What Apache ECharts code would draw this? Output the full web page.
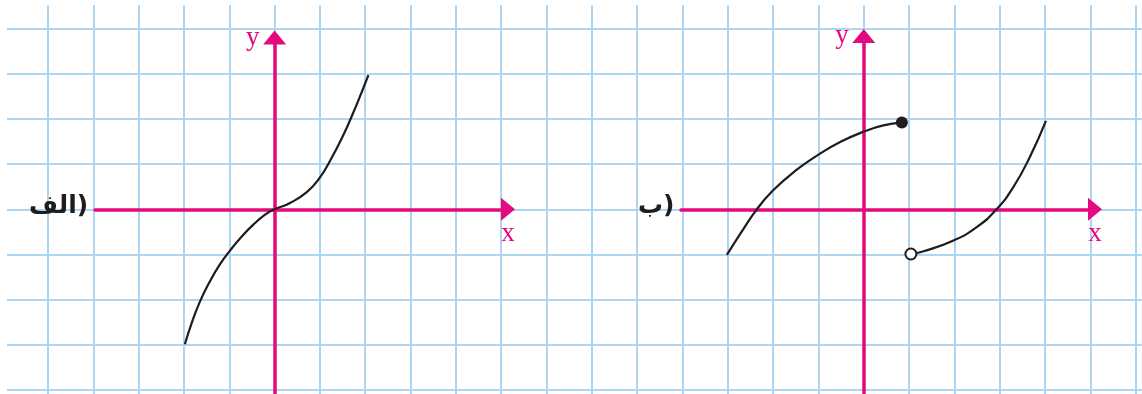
<!DOCTYPE html>
<html>
<head>
<meta charset="utf-8">
<script src="https://cdn.jsdelivr.net/npm/echarts@6/dist/echarts.min.js"></script>
<style>
	html, body { margin: 0; padding: 0; background: #fff; }
	#main { width: 1142px; height: 394px; }
</style>
</head>
<body>
<div id="main"></div>
<script>
// graph (الف): one smooth curve through the origin
var curveA = [[-1.98, -2.99], [-1.83, -2.52], [-1.65, -2.05], [-1.43, -1.6], [-1.2, -1.21],
	[-0.98, -0.91], [-0.73, -0.61], [-0.47, -0.34], [-0.21, -0.12], [0, 0], [0.34, 0.14],
	[0.71, 0.38], [0.99, 0.69], [1.26, 1.14], [1.52, 1.65], [1.74, 2.15], [1.92, 2.59], [2.07, 2.97]];
// graph (ب): two pieces with a jump
var curveB1 = [[-3.02, -1.01], [-2.69, -0.49], [-2.36, 0], [-2, 0.42], [-1.5, 0.86],
	[-1, 1.21], [-0.5, 1.5], [0, 1.72], [0.43, 1.86], [0.84, 1.92]];
var curveB2 = [[1.04, -0.99], [1.32, -0.93], [1.98, -0.69], [2.5, -0.39], [2.93, 0],
	[3.3, 0.49], [3.67, 1.17], [4.02, 1.96]];
var closedEnd = [[0.84, 1.92]];
var openEnd = [[1.04, -0.99]];
var panelLabels = ['الف)', 'ب)'];
var axisNames = ['x', 'y'];

// layout of the squared paper (pixels)
var W = 1142, H = 394;
var UX = 45.32, UY = 45.15;    // one square
var OY = 209.3;                // both x axes
var OXA = 274.6, OXB = OXA + 13 * UX;  // the two y axes
var BLUE = '#aed6f3', PINK = '#e5097f', INK = '#1e1c1d';

var myChart = echarts.init(document.getElementById('main'));

function panelAxes(idx, ox, leftPx, endPx, topPx) {
	return {
		grid: { left: leftPx, top: topPx, width: endPx - leftPx, bottom: 0 },
		x: {
			gridIndex: idx, type: 'value',
			min: (leftPx - ox) / UX, max: (endPx - ox) / UX,
			axisLine: { onZero: true, lineStyle: { color: PINK, width: 3.5 }, symbol: ['none', 'triangle'], symbolSize: [23, 14] },
			axisTick: { show: false }, axisLabel: { show: false }, splitLine: { show: false },
			name: axisNames[0], nameLocation: 'end', nameGap: 0,
			nameTextStyle: { color: PINK, fontSize: 27, fontFamily: 'Liberation Serif', align: 'center', verticalAlign: 'top', padding: [11, 0, 0, 0] }
		},
		y: {
			gridIndex: idx, type: 'value',
			min: (OY - H) / UY, max: (OY - topPx) / UY,
			axisLine: { onZero: true, lineStyle: { color: PINK, width: 3.5 }, symbol: ['none', 'triangle'], symbolSize: [23, 14] },
			axisTick: { show: false }, axisLabel: { show: false }, splitLine: { show: false },
			name: axisNames[1], nameLocation: 'end', nameGap: 0,
			nameTextStyle: { color: PINK, fontSize: 27, fontFamily: 'Liberation Serif', align: 'right', verticalAlign: 'middle', padding: [3, 15, 0, 0] }
		}
	};
}

var pa = panelAxes(2, OXA, 95, 508, 37.5);
var pb = panelAxes(3, OXB, 681, 1095, 36);

var labelStyle = { fontFamily: 'DejaVu Sans', fontSize: 25, fontWeight: 'bold', color: INK };

var hidden = { axisLine: { show: false }, axisTick: { show: false }, axisLabel: { show: false } };
function paperAxis(extra) {
	return Object.assign({ type: 'value' }, hidden, extra);
}

// vertical lines: x min sits on a paper line just off the left edge
var vMin = -6, vLeft = OXA + vMin * UX;
// horizontal lines: the grid spans the outermost lines
var hMin = -4, hMax = 4;

var curveStyle = { color: INK, width: 2.2 };

var option = {
	animation: false,
	backgroundColor: '#fff',
	title: [
		{ text: panelLabels[0], left: 29, top: 194, padding: 0, textStyle: labelStyle },
		{ text: panelLabels[1], left: 638, top: 194, padding: 0, textStyle: labelStyle }
	],
	grid: [
		{ left: vLeft, right: 0, top: 5, bottom: 0 },
		{ left: 7, right: 0, top: OY - hMax * UY, bottom: H - (OY - hMin * UY) },
		pa.grid, pb.grid
	],
	xAxis: [
		paperAxis({ gridIndex: 0, min: vMin, max: vMin + (W - vLeft) / UX, interval: 1,
			splitLine: { show: true, showMinLine: false, showMaxLine: false, lineStyle: { color: BLUE, width: 2 } } }),
		paperAxis({ gridIndex: 1, min: 0, max: 1, splitLine: { show: false } }),
		pa.x, pb.x
	],
	yAxis: [
		paperAxis({ gridIndex: 0, min: 0, max: 1, splitLine: { show: false } }),
		paperAxis({ gridIndex: 1, min: hMin, max: hMax, interval: 1,
			splitLine: { show: true, lineStyle: { color: BLUE, width: 2 } } }),
		pa.y, pb.y
	],
	series: [
		{ type: 'line', xAxisIndex: 2, yAxisIndex: 2, data: curveA, smooth: 0.5, showSymbol: false,
			lineStyle: curveStyle, z: 5, silent: true },
		{ type: 'line', xAxisIndex: 3, yAxisIndex: 3, data: curveB1, smooth: 0.5, showSymbol: false,
			lineStyle: curveStyle, z: 5, silent: true },
		{ type: 'line', xAxisIndex: 3, yAxisIndex: 3, data: curveB2, smooth: 0.5, showSymbol: false,
			lineStyle: curveStyle, z: 5, silent: true },
		{ type: 'scatter', xAxisIndex: 3, yAxisIndex: 3, data: closedEnd, symbolSize: 12,
			itemStyle: { color: INK, opacity: 1 }, z: 6, silent: true },
		{ type: 'scatter', xAxisIndex: 3, yAxisIndex: 3, data: openEnd, symbolSize: 11,
			itemStyle: { color: '#fff', borderColor: INK, borderWidth: 2, opacity: 1 }, z: 6, silent: true }
	]
};

myChart.setOption(option);
</script>
</body>
</html>
